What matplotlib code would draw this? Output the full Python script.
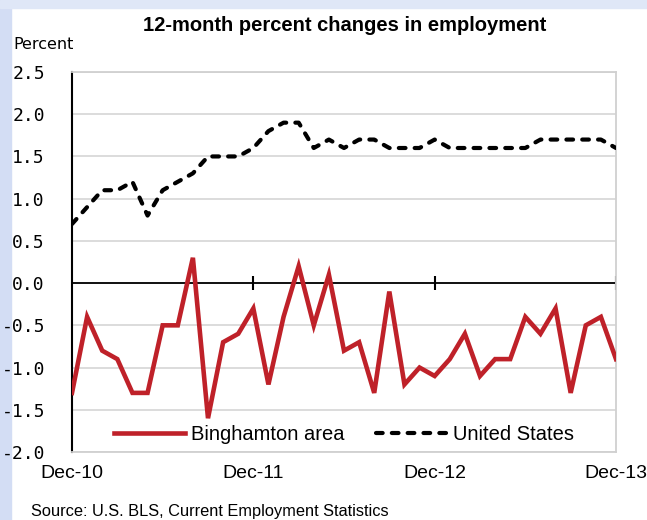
import matplotlib.pyplot as plt
from matplotlib.patches import Rectangle

# Monthly 12-month percent changes, Dec-10 .. Dec-13
binghamton = [-1.3, -0.4, -0.8, -0.9, -1.3, -1.3, -0.5, -0.5, 0.3, -1.6, -0.7, -0.6,
              -0.3, -1.2, -0.4, 0.2, -0.5, 0.1, -0.8, -0.7, -1.3, -0.1, -1.2, -1.0,
              -1.1, -0.9, -0.6, -1.1, -0.9, -0.9, -0.4, -0.6, -0.3, -1.3, -0.5, -0.4,
              -0.9]
united_states = [0.7, 0.9, 1.1, 1.1, 1.2, 0.8, 1.1, 1.2, 1.3, 1.5, 1.5, 1.5,
                 1.6, 1.8, 1.9, 1.9, 1.6, 1.7, 1.6, 1.7, 1.7, 1.6, 1.6, 1.6,
                 1.7, 1.6, 1.6, 1.6, 1.6, 1.6, 1.6, 1.7, 1.7, 1.7, 1.7, 1.7,
                 1.6]
months = list(range(len(binghamton)))
xtick_pos = [0, 12, 24, 36]
xtick_labels = ['Dec-10', 'Dec-11', 'Dec-12', 'Dec-13']
ytick_vals = [-2.0, -1.5, -1.0, -0.5, 0.0, 0.5, 1.0, 1.5, 2.0, 2.5]

fig = plt.figure(figsize=(6.47, 5.2), dpi=100)
fig.patch.set_facecolor('white')
# light blue page edges, kept under everything else
fig.patches.append(Rectangle((0, 0), 11 / 647, 1, transform=fig.transFigure,
                             color='#d3ddf4', zorder=-5))
fig.patches.append(Rectangle((0, 1 - 8 / 520), 1, 8 / 520, transform=fig.transFigure,
                             color='#dfe7f7', zorder=-5))

ax = fig.add_axes([72 / 647, 1 - 452 / 520, 544 / 647, 380 / 520])
ax.set_zorder(1)

ax.plot(months, binghamton, color='#bf2129', lw=3.3, solid_joinstyle='miter',
        label='Binghamton area', zorder=3)
ax.plot(months, united_states, color='black', lw=3.0, linestyle=(0, (1.6, 2.2)),
        dash_capstyle='round', label='United States', zorder=3)

ax.set_xlim(0, 36)
ax.set_ylim(-2.0, 2.5)
ax.set_yticks(ytick_vals)
ax.set_yticklabels([f'{v:.1f}' for v in ytick_vals], family='DejaVu Sans Mono',
                   fontsize=13)
ax.grid(axis='y', color='#d9d9d9', lw=1.3, zorder=0)
ax.set_xticks(xtick_pos)
ax.set_xticklabels(xtick_labels, family='Liberation Sans', fontsize=14)
ax.tick_params(axis='x', length=0, pad=9)
ax.tick_params(axis='y', length=0, pad=19.5)

for side in ['top', 'right', 'bottom']:
    ax.spines[side].set_color('#d0d0d0')
    ax.spines[side].set_linewidth(1.3)
ax.spines['left'].set_color('black')
ax.spines['left'].set_linewidth(1.5)

# zero line with year tick marks
ax.axhline(0, color='black', lw=1.3, zorder=2)
ax.vlines(xtick_pos[1:], -0.08, 0.08, color='black', lw=1.5, zorder=2)

ax.legend(loc='center', bbox_to_anchor=(0.5, 0.047), ncol=2, frameon=False,
          prop={'family': 'Liberation Sans', 'size': 14.5}, handlelength=3.5,
          handletextpad=0.3, columnspacing=1.6)

fig.text(345 / 647, 1 - 31 / 520, '12-month percent changes in employment',
         ha='center', va='baseline', family='Liberation Sans', fontweight='bold',
         fontsize=14.5)
fig.text(13 / 647, 1 - 49 / 520, 'Percent', ha='left', va='baseline',
         family='DejaVu Sans', fontsize=11.5)
fig.text(31 / 647, 4 / 520, 'Source: U.S. BLS, Current Employment Statistics',
         ha='left', va='baseline', family='Liberation Sans', fontsize=11.8)

fig.savefig('out.png', dpi=100)
